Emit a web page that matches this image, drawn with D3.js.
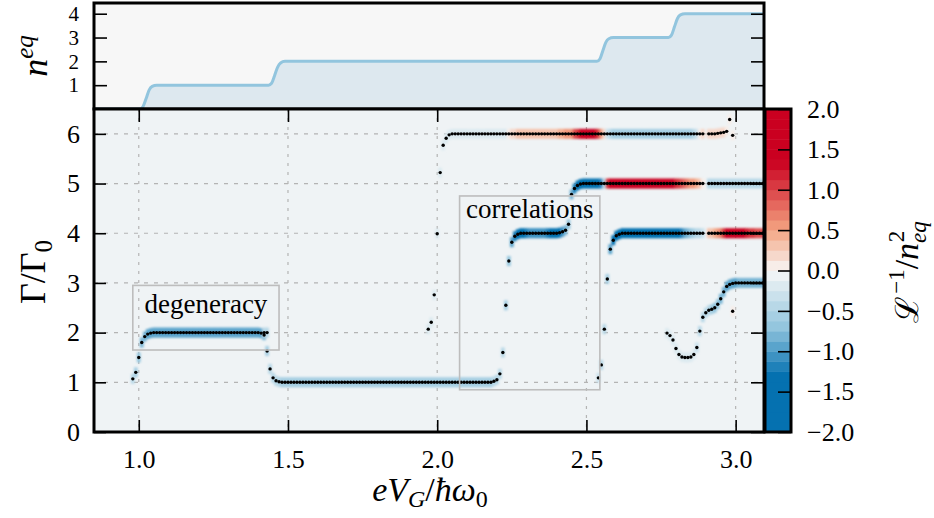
<!DOCTYPE html>
<html>
<head>
<meta charset="utf-8">
<script src="https://cdn.jsdelivr.net/npm/d3@7"></script>
<style>
  body { margin: 0; background: #ffffff; }
  text { font-family: "Liberation Serif", "DejaVu Serif", serif; fill: #000; }
</style>
</head>
<body>
<svg id="chart" width="934" height="518"></svg>
<script>
// ---------------------------------------------------------------
// Data: gate-voltage sweep, sampled every 0.01 (eV_G / ħω0).
// Each branch: first sample position, Γ/Γ0 values and the
// L^-1/n_eq^2 level used to colour the band (null = no sample).
// ---------------------------------------------------------------
const sampleStep = 0.01;

const branchA_x0 = 0.98;
const branchA_gamma = [
  1.07,1.20,1.50,1.80,1.92,1.97,1.99,
  2,2,2,2,2,2,2,2,2,2, 2,2,2,2,2,2,2,2,2,2, 2,2,2,2,2,2,2,2,2,2, 2,2,2,2,2,2,
  1.99,1.95,1.63,1.27,1.09,1.03,1.01,
  1,1,1,1,1,1,1,1,1,1, 1,1,1,1,1,1,1,1,1,1, 1,1,1,1,1,1,1,1,1,1, 1,1,1,1,1,1,1,1,1,1,
  1,1,1,1,1,1,1,1,1,1, 1,1,1,1,1,1,1,1,1,1, 1,1,1,1,1,1,1,1,1,1, 1,
  1.02,1.05,1.17,1.60,2.55,3.44,3.82,3.94,3.98,
  4,4,4,4,4,4,4,4,4,4, 4,4,4,
  4.01,4.03,4.06,4.18,4.78,4.90,4.96,4.99,
  5,5,5,5,5,5,5,5,5,5, 5,5,5,5,5,5,5,5,5,5, 5,5,5,5,5,5,5,5,5,5, 5,5,5,5,5,5,5,5,5,5, 5,
  null,
  5,5,5,5,5,5,5,5,5,5, 5,5,5,5,5,5,5,5,5
];
const branchA_level = [
  -0.5,-0.6,-0.7,-0.8,-0.85,-0.9,-0.95,
  -0.95,-0.95,-0.95,-0.95,-0.95,-0.95,-0.95,-0.95,-0.95,-0.95,
  -0.95,-0.95,-0.95,-0.95,-0.95,-0.95,-0.95,-0.95,-0.95,-0.95,
  -0.95,-0.95,-0.95,-0.95,-0.95,-0.95,-0.95,-0.95,-0.95,-0.95,
  -0.95,-0.95,-0.95,-0.95,-0.95,-0.95,
  -0.9,-0.8,-0.6,-0.5,-0.5,-0.5,-0.5,
  -0.55,-0.55,-0.55,-0.55,-0.55,-0.55,-0.55,-0.55,-0.55,-0.55,
  -0.55,-0.55,-0.55,-0.55,-0.55,-0.55,-0.55,-0.55,-0.55,-0.55,
  -0.55,-0.55,-0.55,-0.55,-0.55,-0.55,-0.55,-0.55,-0.55,-0.55,
  -0.55,-0.55,-0.55,-0.55,-0.55,-0.55,-0.55,-0.55,-0.55,-0.55,
  -0.55,-0.55,-0.55,-0.55,-0.55,-0.55,-0.55,-0.55,-0.55,-0.55,
  -0.55,-0.55,-0.55,-0.55,-0.55,-0.55,-0.55,-0.55,-0.55,-0.55,
  -0.55,-0.55,-0.55,-0.55,-0.55,-0.55,-0.55,-0.55,-0.55,-0.55,
  -0.55,
  -0.5,-0.5,-0.5,-0.5,-0.6,-0.7,-0.9,-1.2,-1.4,
  -1.4,-1.3,-1.2,-1.1,-1.1,-1.1,-1.1,-1.1,-1.1,-1.2,-1.3,-1.4,-1.5,
  -1.4,-1.1,-0.8,-0.7,-0.8,-1.2,-1.6,-1.8,
  -1.9,-1.9,-1.9,-1.9,-1.8,-1.6,-1.2,-0.4,
  1.0,1.6,1.9,1.9,1.9,1.9,1.9,1.9,1.9,1.9,1.9,1.9,1.9,1.9,1.9,1.9,1.9,1.9,1.9,1.9,1.9,1.8,1.5,
  1.2,1.0,0.9,0.8,0.7,0.6,0.5,0.4,0.3,0.1,
  null,
  -0.5,-0.5,-0.5,-0.5,-0.5,-0.5,-0.5,-0.5,-0.5,-0.5,
  -0.5,-0.5,-0.5,-0.5,-0.5,-0.5,-0.5,-0.5,-0.5
];

const branchB_x0 = 1.97;
const branchB_gamma = [
  2.07,2.21,2.76,3.99,5.22,5.77,5.91,5.98,
  6,6,6,6,6,6,6,6,6,6, 6,6,6,6,6,6,6,6,6,6, 6,6,6,6,6,6,6,6,6,6, 6,6,6,6,6,6,6,6,6,6,
  6,6,6,6,6,6,6,6,6,6, 6,6,6,6,6,6,6,6,6,6, 6,6,6,6,6,6,6,6,6,6, 6,6,6,6,6,6,6,6,6,6,
  6,6,6,6,6,
  null,
  6,6,6,6.01,6.02,6.03,6.05,6.29,5.97
];
const branchB_level = [
  -0.15,-0.15,-0.15,-0.15,-0.15,-0.15,-0.15,-0.15,
  -0.2,-0.2,-0.2,-0.2,-0.2,-0.2,-0.2,-0.2,-0.2,-0.2,
  -0.2,-0.2,-0.2,-0.2,-0.2,-0.2,-0.2,-0.2,-0.2,
  0.1,0.15,0.2,0.25,0.28,0.28,0.28,0.28,0.28,0.28,
  0.28,0.28,0.28,0.28,0.28,0.3,0.35,0.4,0.45,0.5,0.55,
  0.6,0.9,1.1,1.3,1.5,1.6,1.6,1.5,1.3,1.0,0.6,0.2,
  -0.3,-0.5,-0.6,-0.6,-0.6,-0.6,-0.6,-0.6,-0.6,-0.6,
  -0.6,-0.6,-0.6,-0.6,-0.6,-0.6,-0.6,-0.6,-0.6,-0.6,
  -0.6,-0.6,-0.6,-0.6,-0.6,-0.6,-0.6,-0.6,-0.6,-0.5,-0.3,
  0.1,0.15,
  null,
  0.2,0.2,0.2,0.2,0.2,0.15,0.1,0.05,0.0
];

const branchC_x0 = 2.54;
const branchC_gamma = [
  1.09,1.35,2.07,3.08,3.68,3.86,3.95,3.98,
  4,4,4,4,4,4,4,4,4,4, 4,4,4,4,4,4,4,4,4,4, 4,4,4,4,4,4,4,4,
  null,
  4,4,4,4,4,4,4,4,4,4, 4,4,4,4,4,4,4,4,4
];
const branchC_level = [
  -0.3,-0.4,-0.5,-0.6,-1.0,-1.4,-1.7,-1.8,
  -1.8,-1.8,-1.8,-1.8,-1.8,-1.8,-1.8,-1.8,-1.8,-1.8,
  -1.8,-1.8,-1.8,-1.8,-1.8,-1.8,-1.8,-1.8,
  -1.6,-1.4,-1.2,-1.0,-0.8,-0.7,-0.6,-0.5,-0.4,-0.3,
  null,
  0.25,0.3,0.4,0.5,0.7,
  1.1,1.5,1.7,1.8,1.8,1.7,1.6,1.4,
  1.2,1.1,1.0,0.9,0.9,0.9
];

const branchD_x0 = 2.77;
const branchD_gamma = [
  1.99,1.94,1.85,1.68,1.56,1.51,1.50,1.50,1.51,1.56,
  1.70,2.03,2.31,2.40,2.45,2.47,2.50,2.57,2.68,2.82,
  2.93,2.97,2.99,
  3,3,3,3,3,3,3,3,3,3
];
const branchD_level = [
  -0.2,-0.2,-0.2,-0.2,-0.2,-0.2,-0.2,-0.2,-0.2,-0.2,
  -0.3,-0.4,-0.5,-0.5,-0.5,-0.6,-0.7,-0.75,-0.8,-0.85,
  -0.9,-0.95,-0.95,
  -0.9,-0.85,-0.85,-0.85,-0.85,-0.85,-0.85,-0.85,-0.85,-0.85
];

const branchE_x0 = 1.42;
const branchE_gamma = [2.0, 2.0];
const branchE_level = [-0.5, -0.4];

const branchF_x0 = 2.99;
const branchF_gamma = [2.43];
const branchF_level = [0.0];

// Equilibrium occupation n_eq versus gate voltage
const neqX = [0.85,1.005,1.015,1.025,1.035,1.045,1.06,
              1.435,1.445,1.455,1.465,1.475,1.49,
              2.535,2.545,2.555,2.565,2.575,2.59,
              2.775,2.785,2.795,2.805,2.815,2.83,3.095];
const neqY = [0,0,0.12,0.45,0.8,0.95,1.0,
              1.0,1.08,1.4,1.75,1.93,2.0,
              2.0,2.1,2.45,2.8,2.95,3.0,
              3.0,3.1,3.45,3.8,3.95,4.0,4.0];

// Axis ticks
const xTicks = [1.0, 1.5, 2.0, 2.5, 3.0];
const gammaTicks = [0, 1, 2, 3, 4, 5, 6];
const neqTicks = [1, 2, 3, 4];
const levelTicks = [-2.0, -1.5, -1.0, -0.5, 0.0, 0.5, 1.0, 1.5, 2.0];

// Diverging colour map for L^-1/n_eq^2, drawn in discrete levels
const colorStops = [-2, -1.3, -0.7, 0, 0.5, 1.35, 2];
const colorRange = ["#0571b0", "#0571b0", "#92c5de", "#f7f7f7", "#f4a582", "#ca0020", "#ca0020"];
const nLevels = 32;

// ---------------------------------------------------------------
const svg = d3.select("#chart");
const L = 94, R = 764, topT = 3, midY = 109, botY = 432;
const cbL = 765, cbR = 791;

const x = d3.scaleLinear().domain([0.85, 3.095]).range([L, R]);
const yG = d3.scaleLinear().domain([0, 6.5]).range([botY, midY]);
const yN = d3.scaleLinear().domain([0, 4.45]).range([midY, topT]);
const yC = d3.scaleLinear().domain([-2, 2]).range([botY, midY]);

const ramp = d3.scaleLinear().domain(colorStops).range(colorRange).clamp(true);
const levelColor = d3.scaleQuantize().domain([-2, 2])
  .range(d3.range(nLevels).map(k => ramp(-2 + (k + 0.5) * 4 / nLevels)));

function branchPoints(x0, gamma, level) {
  return gamma.map((g, i) => ({ x: +(x0 + i * sampleStep).toFixed(3), g, v: level[i] }))
              .filter(d => d.g !== null && d.v !== null && d.v !== undefined);
}
const branches = [
  branchPoints(branchA_x0, branchA_gamma, branchA_level),
  branchPoints(branchB_x0, branchB_gamma, branchB_level),
  branchPoints(branchC_x0, branchC_gamma, branchC_level),
  branchPoints(branchD_x0, branchD_gamma, branchD_level),
  branchPoints(branchE_x0, branchE_gamma, branchE_level),
  branchPoints(branchF_x0, branchF_gamma, branchF_level)
];
const allPoints = branches.flat();

const defs = svg.append("defs");
defs.append("clipPath").attr("id", "clipTop").append("rect")
  .attr("x", L).attr("y", topT).attr("width", R - L).attr("height", midY - topT);
defs.append("clipPath").attr("id", "clipMain").append("rect")
  .attr("x", L).attr("y", midY).attr("width", R - L).attr("height", botY - midY);
defs.append("filter").attr("id", "soft").attr("x", "-5%").attr("y", "-50%")
  .attr("width", "110%").attr("height", "200%")
  .append("feGaussianBlur").attr("stdDeviation", "1.2 0.9");

// ---------------- top panel: n_eq ----------------
const topG = svg.append("g");
topG.append("rect").attr("x", L).attr("y", topT).attr("width", R - L).attr("height", midY - topT)
  .attr("fill", "#f7f7f7");
const neqData = neqX.map((v, i) => [v, neqY[i]]);
const topClip = topG.append("g").attr("clip-path", "url(#clipTop)");
topClip.append("path").datum(neqData)
  .attr("d", d3.area().x(d => x(d[0])).y0(yN(0)).y1(d => yN(d[1])).curve(d3.curveMonotoneX))
  .attr("fill", "#dde8ef");
topClip.append("path").datum(neqData)
  .attr("d", d3.line().x(d => x(d[0])).y(d => yN(d[1])).curve(d3.curveMonotoneX))
  .attr("fill", "none").attr("stroke", "#92c5de").attr("stroke-width", 3);

function styleAxis(g, fontSize) {
  g.select(".domain").remove();
  g.attr("font-family", null);
  g.selectAll(".tick line").attr("stroke", "#000").attr("stroke-width", 1.6);
  g.selectAll(".tick text").attr("font-size", fontSize).attr("fill", "#000");
}

topG.append("g").attr("transform", `translate(${L},0)`)
  .call(d3.axisLeft(yN).tickValues(neqTicks).tickFormat(d3.format("d")).tickSizeInner(-13).tickSizeOuter(0).tickPadding(15))
  .call(g => styleAxis(g, 21));
topG.append("g").attr("transform", `translate(${R},0)`)
  .call(d3.axisRight(yN).tickValues(neqTicks).tickFormat("").tickSizeInner(-13).tickSizeOuter(0))
  .call(g => styleAxis(g, 21));
topG.append("rect").attr("x", L).attr("y", topT).attr("width", R - L).attr("height", midY - topT)
  .attr("fill", "none").attr("stroke", "#000").attr("stroke-width", 3);

// ---------------- main panel: Γ/Γ0 ----------------
const mainG = svg.append("g");
mainG.append("rect").attr("x", L).attr("y", midY).attr("width", R - L).attr("height", botY - midY)
  .attr("fill", "#eff3f5");
const inner = mainG.append("g").attr("clip-path", "url(#clipMain)");

// dotted grid
inner.selectAll("line.gx").data(xTicks).join("line")
  .attr("x1", d => x(d)).attr("x2", d => x(d)).attr("y1", midY).attr("y2", botY)
  .attr("stroke", "#b4b4b4").attr("stroke-width", 1.2).attr("stroke-dasharray", "3,6");
inner.selectAll("line.gy").data(gammaTicks.filter(d => d > 0)).join("line")
  .attr("x1", L).attr("x2", R).attr("y1", d => yG(d)).attr("y2", d => yG(d))
  .attr("stroke", "#b4b4b4").attr("stroke-width", 1.2).attr("stroke-dasharray", "4,6");

// colour bands behind the samples
const cellW = x(sampleStep) - x(0) + 0.8;
const bandH = 10;
inner.append("g").attr("filter", "url(#soft)")
  .selectAll("rect").data(allPoints).join("rect")
  .attr("x", d => x(d.x) - cellW / 2).attr("y", d => yG(d.g) - bandH / 2)
  .attr("width", cellW).attr("height", bandH)
  .attr("fill", d => levelColor(d.v));

// samples
inner.append("g").selectAll("circle").data(allPoints).join("circle")
  .attr("cx", d => x(d.x)).attr("cy", d => yG(d.g)).attr("r", 1.7)
  .attr("fill", "#000");

// annotation boxes
const notes = [
  { label: "degeneracy", x0: 0.98, x1: 1.47, g0: 1.65, g1: 2.95, gText: 2.4 },
  { label: "correlations", x0: 2.075, x1: 2.545, g0: 0.85, g1: 4.75, gText: 4.3 }
];
mainG.selectAll("rect.note").data(notes).join("rect")
  .attr("x", d => x(d.x0)).attr("y", d => yG(d.g1))
  .attr("width", d => x(d.x1) - x(d.x0)).attr("height", d => yG(d.g0) - yG(d.g1))
  .attr("fill", "none").attr("stroke", "#bdbdbd").attr("stroke-width", 1.6);
mainG.selectAll("text.note").data(notes).join("text")
  .attr("x", d => (x(d.x0) + x(d.x1)) / 2).attr("y", d => yG(d.gText))
  .attr("text-anchor", "middle").attr("font-size", 27).text(d => d.label);

// axes of the main panel
mainG.append("g").attr("transform", `translate(0,${botY})`)
  .call(d3.axisBottom(x).tickValues(xTicks).tickFormat(d3.format(".1f")).tickSizeInner(-12).tickSizeOuter(0).tickPadding(18))
  .call(g => styleAxis(g, 26));
mainG.append("g").attr("transform", `translate(0,${midY})`)
  .call(d3.axisTop(x).tickValues(xTicks).tickFormat("").tickSizeInner(-13).tickSizeOuter(0))
  .call(g => styleAxis(g, 26));
mainG.append("g").attr("transform", `translate(${L},0)`)
  .call(d3.axisLeft(yG).tickValues(gammaTicks).tickFormat(d3.format("d")).tickSizeInner(-12).tickSizeOuter(0).tickPadding(14))
  .call(g => styleAxis(g, 26));
mainG.append("g").attr("transform", `translate(${R},0)`)
  .call(d3.axisRight(yG).tickValues(gammaTicks).tickFormat("").tickSizeInner(-13).tickSizeOuter(0))
  .call(g => styleAxis(g, 26));
mainG.append("rect").attr("x", L).attr("y", midY).attr("width", R - L).attr("height", botY - midY)
  .attr("fill", "none").attr("stroke", "#000").attr("stroke-width", 3);

// ---------------- colour bar ----------------
const cbG = svg.append("g");
const levelEdges = d3.range(nLevels).map(k => -2 + k * 4 / nLevels);
cbG.selectAll("rect.lv").data(levelEdges).join("rect")
  .attr("x", cbL).attr("width", cbR - cbL)
  .attr("y", d => yC(d + 4 / nLevels)).attr("height", d => yC(d) - yC(d + 4 / nLevels) + 0.5)
  .attr("fill", d => levelColor(d + 2 / nLevels));
cbG.append("g").attr("transform", `translate(${cbR},0)`)
  .call(d3.axisRight(yC).tickValues(levelTicks).tickFormat(d3.format(".1f")).tickSizeInner(-13).tickSizeOuter(0).tickPadding(16))
  .call(g => styleAxis(g, 26))
  .call(g => g.selectAll(".tick text").attr("text-anchor", "start"));
cbG.append("rect").attr("x", cbL).attr("y", midY).attr("width", cbR - cbL).attr("height", botY - midY)
  .attr("fill", "none").attr("stroke", "#000").attr("stroke-width", 3);

// ---------------- axis titles ----------------
// x title: eV_G / ħω0
const xt = svg.append("text").attr("x", 430).attr("y", 501).attr("text-anchor", "middle").attr("font-size", 34);
xt.append("tspan").attr("font-style", "italic").text("eV");
xt.append("tspan").attr("font-style", "italic").attr("font-size", 24).attr("dy", 6).text("G");
xt.append("tspan").attr("dy", -6).text("/");
xt.append("tspan").attr("font-style", "italic").text("ħω");
xt.append("tspan").attr("font-size", 24).attr("dy", 6).text("0");

// y title: Γ/Γ0
const yt = svg.append("text").attr("transform", "translate(45,272) rotate(-90)")
  .attr("text-anchor", "middle").attr("font-size", 36);
yt.append("tspan").text("Γ/Γ");
yt.append("tspan").attr("font-size", 25).attr("dy", 7).text("0");

// top title: n^eq
const nt = svg.append("text").attr("transform", "translate(47,56) rotate(-90)")
  .attr("text-anchor", "middle").attr("font-size", 36).attr("font-style", "italic");
nt.append("tspan").text("n");
nt.append("tspan").attr("font-size", 25).attr("dy", -14).text("eq");

// colour bar title: L^-1 / n_eq^2
const ct = svg.append("text").attr("transform", "translate(918,272) rotate(-90)")
  .attr("text-anchor", "middle").attr("font-size", 34);
ct.append("tspan").attr("font-family", "DejaVu Serif").attr("font-size", 32).text("ℒ");
ct.append("tspan").attr("font-size", 23).attr("dx", 2).attr("dy", -14).text("−1");
ct.append("tspan").attr("dy", 14).text("/");
ct.append("tspan").attr("font-style", "italic").text("n");
ct.append("tspan").attr("font-size", 23).attr("font-style", "italic").attr("dy", 8).text("eq");
ct.append("tspan").attr("font-size", 23).attr("dx", -21).attr("dy", -22).text("2");
</script>
</body>
</html>
